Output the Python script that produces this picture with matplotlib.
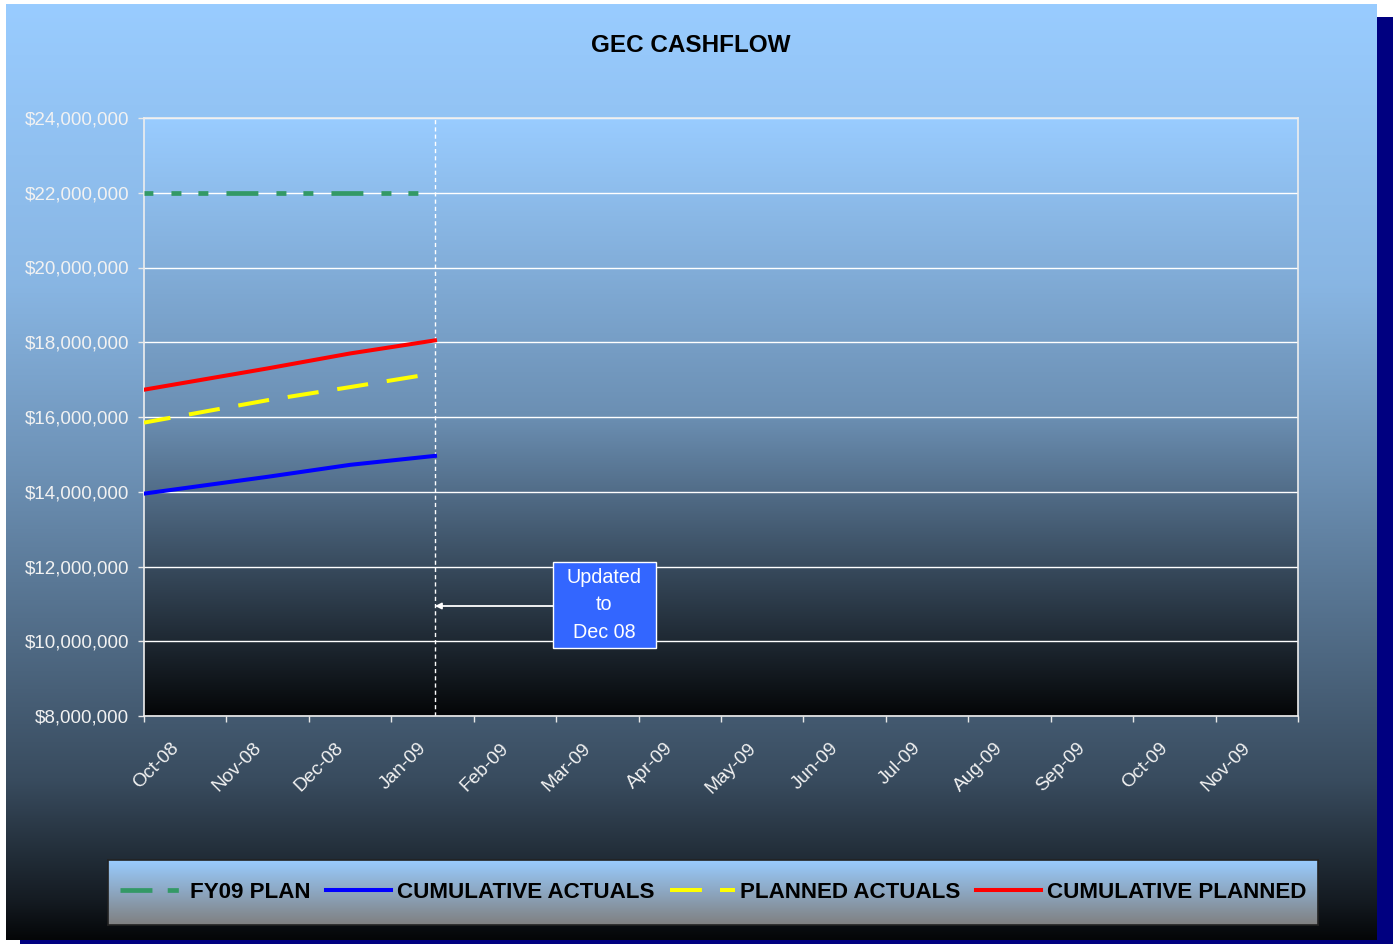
import numpy as np
import matplotlib
matplotlib.use("Agg")
import matplotlib.pyplot as plt
from matplotlib.patches import Rectangle
from matplotlib.ticker import FuncFormatter, FixedLocator
import matplotlib.transforms as mtransforms

# Gráfico GEC CASHFLOW: flujo acumulado FY09

plt.rcParams['font.family'] = ['Liberation Sans', 'DejaVu Sans']
plt.rcParams['lines.scale_dashes'] = False

MESES = ['Oct-08', 'Nov-08', 'Dec-08', 'Jan-09', 'Feb-09', 'Mar-09', 'Apr-09',
         'May-09', 'Jun-09', 'Jul-09', 'Aug-09', 'Sep-09', 'Oct-09', 'Nov-09']

# posición en meses desde el inicio de Oct-08
X_PUNTOS = [0, 1.5, 2.5, 3.53]
CORTE = 3.53  # actualizado a Dec 08

PLAN_FY09 = [22_000_000, 22_000_000, 22_000_000, 22_000_000]
ACUMULADO_REAL = [13_950_000, 14_400_000, 14_720_000, 14_960_000]
REAL_PLANEADO = [15_850_000, 16_450_000, 16_800_000, 17_170_000]
ACUMULADO_PLANEADO = [16_730_000, 17_300_000, 17_700_000, 18_050_000]

Y_MIN, Y_MAX, Y_PASO = 8_000_000, 24_000_000, 2_000_000

W, H = 1393, 944
AZUL_CLARO = np.array([0x99, 0xcc, 0xff]) / 255.0


def _gradiente(t_pts, f_pts, n=400, base=AZUL_CLARO, fondo=None):
    t = np.linspace(0, 1, n)
    f = np.interp(t, t_pts, f_pts)
    if fondo is None:
        col = base[None, :] * f[:, None]
    else:
        col = base[None, :] * f[:, None] + fondo[None, :] * (1 - f[:, None])
    return col[:, None, :]


fig = plt.figure(figsize=(W / 100, H / 100), dpi=100)
fig.patch.set_facecolor('white')

# fondo general con sombra azul marino
ax_bg = fig.add_axes([0, 0, 1, 1], zorder=-10)
ax_bg.set_xlim(0, W)
ax_bg.set_ylim(H, 0)
ax_bg.axis('off')
ax_bg.add_patch(Rectangle((20, 17), W - 20, H - 17, color='#000080', lw=0, zorder=1))
ax_bg.imshow(_gradiente([0, 0.3, 0.5, 0.83, 0.96, 1], [1, 0.89, 0.71, 0.37, 0.13, 0.03]),
             extent=(6, 1377, 940, 4), aspect='auto', interpolation='bilinear', zorder=2)
ax_bg.set_xlim(0, W)
ax_bg.set_ylim(H, 0)

fig.text(691 / W, 1 - 45 / H, 'GEC CASHFLOW', ha='center', va='center',
         fontsize=17.5, fontweight='bold', color='black')

# área de trazado
x0, x1, y0, y1 = 144, 1298, 118, 716
ax = fig.add_axes([x0 / W, 1 - y1 / H, (x1 - x0) / W, (y1 - y0) / H])
ax.set_facecolor('none')
ax.imshow(_gradiente([0, 0.5, 0.8, 1], [1, 0.70, 0.30, 0.03]), extent=(0, 1, 0, 1),
          transform=ax.transAxes, aspect='auto', zorder=0, interpolation='bilinear')

ax.plot(X_PUNTOS, PLAN_FY09, color='#339966', lw=3.4, dash_capstyle='butt',
        linestyle=(16.6, (23, 13, 7.2, 12.2, 7.2, 13)),
        label='FY09 PLAN', zorder=3)
ax.plot(X_PUNTOS, ACUMULADO_REAL, color='#0000ff', lw=2.9, label='CUMULATIVE ACTUALS', zorder=3)
ax.plot(X_PUNTOS, REAL_PLANEADO, color='#ffff00', lw=2.9, dash_capstyle='butt',
        linestyle=(3.2, (22.5, 13.6)), label='PLANNED ACTUALS', zorder=3)
ax.plot(X_PUNTOS, ACUMULADO_PLANEADO, color='#ff0000', lw=2.9, label='CUMULATIVE PLANNED', zorder=3)

ax.axvline(CORTE, color='white', lw=1, linestyle=(0, (3, 2.2)), zorder=2.5)

ax.set_xlim(0, len(MESES))
ax.set_ylim(Y_MIN, Y_MAX)
ax.set_yticks(np.arange(Y_MIN, Y_MAX + 1, Y_PASO))
ax.yaxis.set_major_formatter(FuncFormatter(lambda v, p: f'${v:,.0f}'))
ax.yaxis.grid(True, color='white', lw=1)
ax.set_axisbelow(True)

ax.xaxis.set_major_locator(FixedLocator(np.arange(0, len(MESES) + 1)))
ax.xaxis.set_minor_locator(FixedLocator(np.arange(len(MESES)) + 0.5))
ax.set_xticklabels([], minor=False)
ax.set_xticklabels(MESES, minor=True)
ax.tick_params(axis='x', which='major', length=4.3, width=1, color='#e8e8e8', direction='out')
ax.tick_params(axis='x', which='minor', length=0, pad=17, labelsize=13.8, labelcolor='#f2f2f2')
ax.tick_params(axis='y', length=4.3, width=1, color='#e8e8e8', pad=6.5,
               labelsize=13.5, labelcolor='#f2f2f2')
desplaz = mtransforms.ScaledTranslation(-15 / 100, 0, fig.dpi_scale_trans)
for lbl in ax.get_xticklabels(minor=True):
    lbl.set_rotation(45)
    lbl.set_ha('right')
    lbl.set_va('top')
    lbl.set_rotation_mode('anchor')
    lbl.set_transform(lbl.get_transform() + desplaz)

for sp in ax.spines.values():
    sp.set_color('#eeeeee')
    sp.set_linewidth(1.2)

# cuadro de anotación
bx0, bx1 = (553 - x0) / (x1 - x0), (656 - x0) / (x1 - x0)
by0, by1 = (y1 - 648) / (y1 - y0), (y1 - 562) / (y1 - y0)
ax.add_patch(Rectangle((bx0, by0), bx1 - bx0, by1 - by0, transform=ax.transAxes,
                       fc='#3366ff', ec='white', lw=1, zorder=4))
ax.text((bx0 + bx1) / 2, (by0 + by1) / 2, 'Updated\nto\nDec 08', transform=ax.transAxes,
        ha='center', va='center', color='white', fontsize=14.2, linespacing=1.55, zorder=5)
y_flecha = (y1 - 606) / (y1 - y0)
ax.annotate('', xy=(CORTE, y_flecha), xycoords=('data', 'axes fraction'),
            xytext=(bx0, y_flecha), textcoords='axes fraction',
            arrowprops=dict(arrowstyle='-|>', color='white', lw=1.3, mutation_scale=9,
                            shrinkA=0, shrinkB=0), zorder=4)

# leyenda con fondo degradado
lx0, lx1, ly0, ly1 = 108, 1318, 860, 925
ax_leg = fig.add_axes([lx0 / W, 1 - ly1 / H, (lx1 - lx0) / W, (ly1 - ly0) / H])
ax_leg.imshow(_gradiente([0, 1], [1, 0], base=AZUL_CLARO, fondo=np.array([0.5, 0.5, 0.5])),
              extent=(0, 1, 0, 1), aspect='auto', interpolation='bilinear')
ax_leg.set_xlim(0, 1)
ax_leg.set_ylim(0, 1)
ax_leg.set_xticks([])
ax_leg.set_yticks([])
for sp in ax_leg.spines.values():
    sp.set_color('#222222')
    sp.set_linewidth(1.2)
handles, labels = ax.get_legend_handles_labels()
leg = ax_leg.legend(handles, labels, loc='center', ncol=4, frameon=False,
                    prop={'size': 16.1, 'weight': 'bold'}, handlelength=2.9,
                    handletextpad=0.25, columnspacing=0.7, borderpad=0)
leg_lineas = leg.get_lines()
leg_lineas[0].set_linestyle((0, (23, 11, 8, 40)))
leg_lineas[2].set_linestyle((0, (23, 13, 11, 40)))

fig.savefig('out.png', dpi=100)
